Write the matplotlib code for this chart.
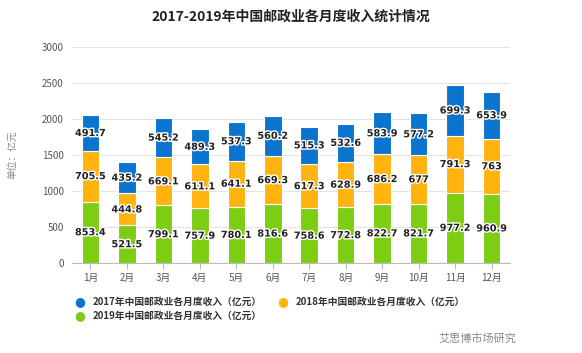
import matplotlib.pyplot as plt
import matplotlib.patheffects as pe
import numpy as np

plt.rcParams['font.family'] = ['Noto Sans CJK SC', 'DejaVu Sans']

months = ["1月", "2月", "3月", "4月", "5月", "6月", "7月", "8月", "9月", "10月", "11月", "12月"]
rev_2019 = [853.4, 521.5, 799.1, 757.9, 780.1, 816.6, 758.6, 772.8, 822.7, 821.7, 977.2, 960.9]
rev_2018 = [705.5, 444.8, 669.1, 611.1, 641.1, 669.3, 617.3, 628.9, 686.2, 677, 791.3, 763]
rev_2017 = [491.7, 435.2, 545.2, 489.3, 537.3, 560.2, 515.3, 532.6, 583.9, 577.2, 699.3, 653.9]
series_names = ["2017年中国邮政业各月度收入（亿元）", "2018年中国邮政业各月度收入（亿元）",
                "2019年中国邮政业各月度收入（亿元）"]

c_blue = "#0a74cf"
c_orange = "#ffb30f"
c_green = "#7dcd13"

fig = plt.figure(figsize=(5.82, 3.53), dpi=100)
ax = fig.add_axes([0.124, 0.255, 0.752, 0.612])

x = np.arange(len(months))
w = 0.48
b19 = np.array(rev_2019)
b18 = b19 + np.array(rev_2018)
ax.bar(x, rev_2019, w, color=c_green, edgecolor="white", linewidth=0.8, zorder=3)
ax.bar(x, rev_2018, w, bottom=b19, color=c_orange, edgecolor="white", linewidth=0.8, zorder=3)
ax.bar(x, rev_2017, w, bottom=b18, color=c_blue, edgecolor="white", linewidth=0.8, zorder=3)

halo = [pe.withStroke(linewidth=2, foreground="white")]
for i in x:
    for val, base in ((rev_2019[i], 0), (rev_2018[i], b19[i]), (rev_2017[i], b18[i])):
        ax.text(i, base + val / 2, f"{val:g}", ha="center", va="center", fontsize=7,
                fontweight="bold", color="#222222", path_effects=halo, zorder=5,
                family="DejaVu Sans")

ax.set_xlim(-0.5, 11.5)
ax.set_ylim(0, 3000)
ax.set_yticks(range(0, 3001, 500))
ax.set_xticks(x)
ax.set_xticklabels(months)
ax.tick_params(axis="y", length=0, labelsize=7, colors="#555555", pad=6)
ax.tick_params(axis="x", length=4, labelsize=7, colors="#555555", color="#bbbbbb")
ax.grid(axis="y", color="#e3e3e3", linewidth=0.8, zorder=0)
for s in ("top", "right", "left"):
    ax.spines[s].set_visible(False)
ax.spines["bottom"].set_color("#bbbbbb")
ax.set_ylabel("单位：亿元", fontsize=7, color="#888888")
ax.yaxis.set_label_coords(-0.125, 0.5)

fig.text(0.5, 0.952, "2017-2019年中国邮政业各月度收入统计情况", ha="center", va="center",
         fontsize=10, fontweight="bold", color="#222222")

leg_items = [(0.137, 0.145, c_blue, series_names[0]),
             (0.486, 0.145, c_orange, series_names[1]),
             (0.137, 0.105, c_green, series_names[2])]
for lx, ly, col, name in leg_items:
    fig.text(lx, ly, "●", color=col, fontsize=9, ha="center", va="center", family="DejaVu Sans")
    fig.text(lx + 0.022, ly, name, fontsize=7, fontweight="bold", color="#333333",
             ha="left", va="center")

fig.text(0.82, 0.04, "艾思博市场研究", fontsize=8, color="#888888", ha="center", va="center")

fig.savefig("out.png", dpi=100)
